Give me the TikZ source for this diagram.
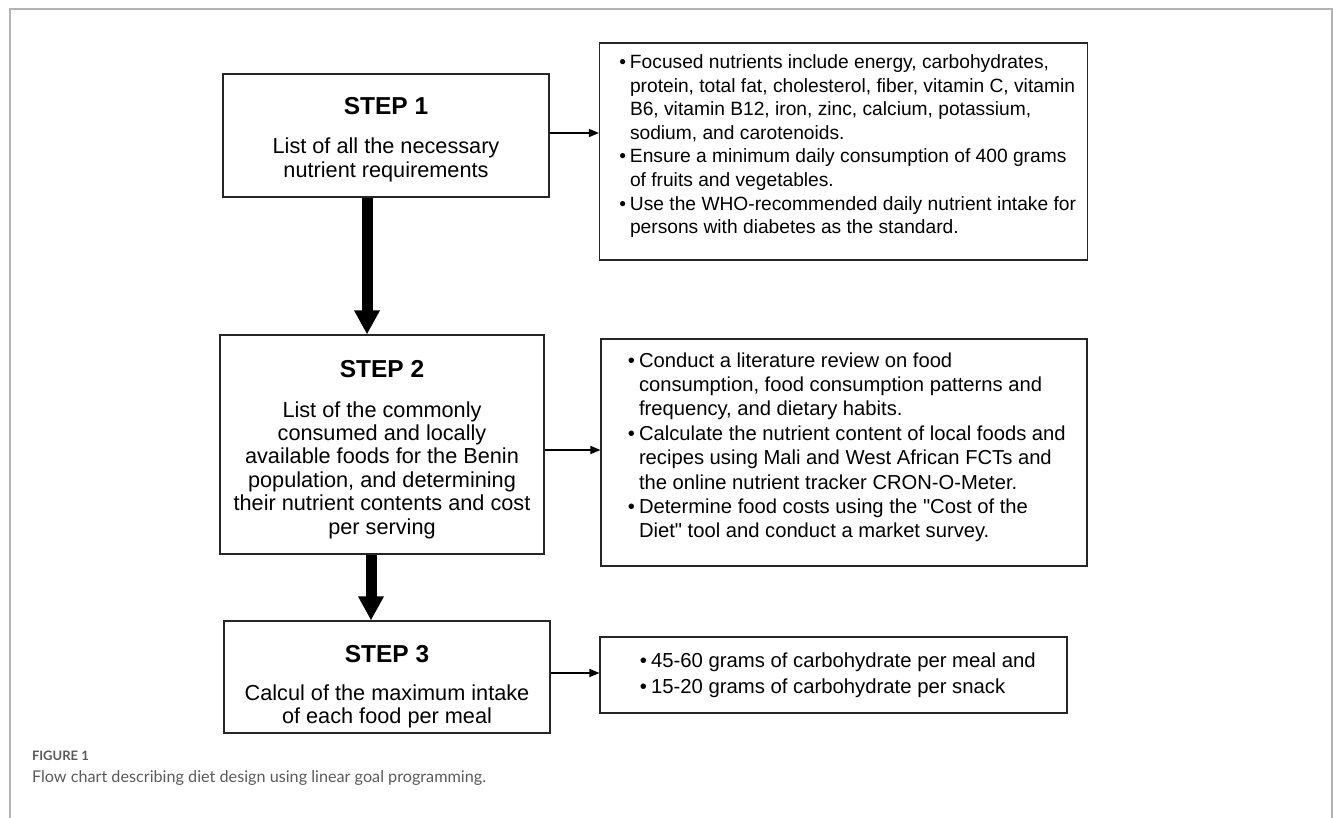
\documentclass[tikz,border=0pt]{standalone}
\usepackage{fontspec}
\setmainfont{Liberation Sans}[Ligatures=TeXOff]
\newfontfamily\capfont{Lato}
\usetikzlibrary{arrows.meta}
\definecolor{framegray}{HTML}{B3B3B3}
\definecolor{capgray}{HTML}{5A5A5A}
\newcommand{\bitm}[1]{\par\noindent\llap{\raisebox{0pt}{•}\hspace{4pt}}#1}
\tikzset{
  box/.style={draw=black!85, line width=1.1pt, inner sep=0pt},
  bigarrow/.style={line width=11pt, -{Triangle[width=24pt,length=24pt]}},
  thinarrow/.style={line width=1.5pt, -{Triangle[width=8pt,length=10pt]}},
  txt/.style={inner sep=0pt, outer sep=0pt},
  steptitle/.style={txt, anchor=base, font=\fontsize{24.5}{27}\bfseries\selectfont},
  frameline/.style={draw=framegray, line width=1.5pt},
}
\begin{document}
\begin{tikzpicture}[x=1pt,y=-1pt]
\useasboundingbox (0,0) rectangle (1333,818);
% outer frame (open at bottom)
\coordinate (fbl) at (10,818);
\coordinate (ftl) at (10,9);
\coordinate (ftr) at (1332,9);
\coordinate (fbr) at (1332,818);
\draw[frameline] (fbl) -- (ftl) -- (ftr) -- (fbr);

% left boxes
\node[box, minimum width=326pt, minimum height=123pt] (b1) at (386,135.5) {};
\node[box, minimum width=324pt, minimum height=219pt] (b2) at (382,444.5) {};
\node[box, minimum width=326pt, minimum height=112pt] (b3) at (387,677) {};

% right boxes
\node[box, minimum width=488pt, minimum height=217pt] (r1) at (843.5,151.5) {};
\node[box, minimum width=486pt, minimum height=227pt] (r2) at (844,452.5) {};
\node[box, minimum width=467pt, minimum height=76pt] (r3) at (833.5,675) {};

% step titles
\node[steptitle] (s1) at (386,115) {STEP 1};
\node[steptitle] (s2) at (382,377) {STEP 2};
\node[steptitle] (s3) at (387,662) {STEP 3};

% step bodies
\node[txt, anchor=base] (t1) at (386,154) {\begin{minipage}[t]{320pt}\centering\fontsize{21.7}{23.3}\selectfont
List of all the necessary\\ nutrient requirements\end{minipage}};
\node[txt, anchor=base] (t2) at (382,417) {\begin{minipage}[t]{320pt}\centering\fontsize{21.7}{23.4}\selectfont
List of the commonly\\ consumed and locally\\ available foods for the Benin\\ population, and determining\\ their nutrient contents and cost\\ per serving\end{minipage}};
\node[txt, anchor=base] (t3) at (387,700) {\begin{minipage}[t]{320pt}\centering\fontsize{21.7}{23.2}\selectfont
Calcul of the maximum intake\\ of each food per meal\end{minipage}};

% right box texts
\node[txt, anchor=base west] (u1) at (630,68.5) {\begin{minipage}[t]{480pt}\raggedright\fontsize{19.2}{23.6}\selectfont
\bitm{Focused nutrients include energy, carbohydrates,\\ protein, total fat, cholesterol, fiber, vitamin C, vitamin\\ B6, vitamin B12, iron, zinc, calcium, potassium,\\ sodium, and carotenoids.}
\bitm{Ensure a minimum daily consumption of 400 grams\\ of fruits and vegetables.}
\bitm{Use the WHO-recommended daily nutrient intake for\\ persons with diabetes as the standard.}\end{minipage}};

\node[txt, anchor=base west] (u2) at (639,367) {\begin{minipage}[t]{480pt}\raggedright\fontsize{20.2}{24.4}\selectfont
\bitm{Conduct a literature review on food\\ consumption, food consumption patterns and\\ frequency, and dietary habits.}
\bitm{Calculate the nutrient content of local foods and\\ recipes using Mali and West African FCTs and\\ the online nutrient tracker CRON-O-Meter.}
\bitm{Determine food costs using the "Cost of the\\ Diet" tool and conduct a market survey.}\end{minipage}};

\node[txt, anchor=base west] (u3) at (651,667) {\begin{minipage}[t]{480pt}\raggedright\fontsize{20.3}{26}\selectfont
\bitm{45-60 grams of carbohydrate per meal and}
\bitm{15-20 grams of carbohydrate per snack}\end{minipage}};

% big vertical arrows
\draw[bigarrow] ([xshift=-19pt]b1.south) -- ([xshift=-15pt]b2.north);
\draw[bigarrow] ([xshift=-11pt]b2.south) -- ([xshift=-16pt]b3.north);

% thin horizontal arrows
\coordinate (a1) at ([yshift=2.5pt]b1.east);
\coordinate (a2) at ([yshift=-5.5pt]b2.east);
\coordinate (a3) at ([yshift=4pt]b3.east);
\draw[thinarrow] (a1) -- (a1 -| r1.west);
\draw[thinarrow] (a2) -- (a2 -| r2.west);
\draw[thinarrow] (a3) -- (a3 -| r3.west);

% caption
\node[txt, anchor=base west, text=capgray, font=\capfont\bfseries\fontsize{13}{15}\selectfont] (fig) at (32,760) {FIGURE 1};
\node[txt, anchor=base west, text=capgray, font=\capfont\fontsize{16.2}{19}\selectfont] (cap) at (32,782) {Flow chart describing diet design using linear goal programming.};
\end{tikzpicture}
\end{document}
